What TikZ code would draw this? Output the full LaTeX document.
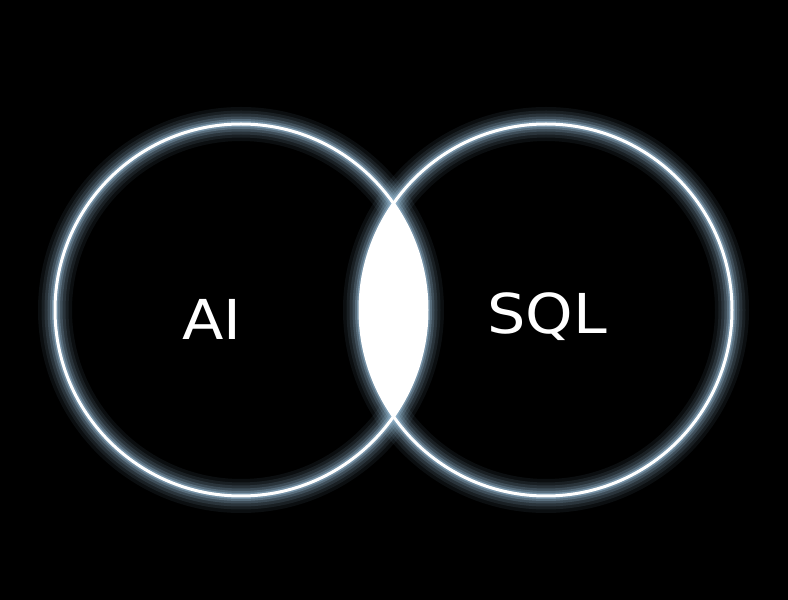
\documentclass[tikz,border=0pt]{standalone}
\usepackage{fontspec}
\setmainfont{DejaVu Sans}
\definecolor{azulbrilho}{RGB}{150,185,210}
\begin{document}
\begin{tikzpicture}[
    x=1pt, y=1pt,
    every node/.style={font=\fontsize{55}{60}\selectfont, text=white}
  ]

  \tikzset{
    anel/.style={draw=white, line width=3pt},
    brilho/.style={draw=azulbrilho, line width=#1pt},
    rotulo/.style={anchor=base, inner sep=0pt, xscale=1.1}
  }

  % fundo
  \fill[black] (0,0) rectangle (788,600);
  \useasboundingbox (0,0) rectangle (788,600);

  \coordinate (cAI) at (241,290);
  \coordinate (cSQL) at (546,290);

  % brilho
  \foreach \w/\o in {34/0.08, 27/0.1, 21/0.14, 15/0.2, 10/0.3, 6/0.5}{
    \draw[brilho=\w, opacity=\o] (cAI) circle[radius=186];
    \draw[brilho=\w, opacity=\o] (cSQL) circle[radius=186];
  }

  % interseccao
  \begin{scope}
    \clip (cAI) circle[radius=186];
    \fill[white] (cSQL) circle[radius=186];
  \end{scope}

  % aneis
  \draw[anel] (cAI) circle[radius=186];
  \draw[anel] (cSQL) circle[radius=186];

  % rotulos
  \node[rotulo] (AI) at (212,260) {AI};
  \node[rotulo] (SQL) at (547,266) {SQL};

\end{tikzpicture}
\end{document}
